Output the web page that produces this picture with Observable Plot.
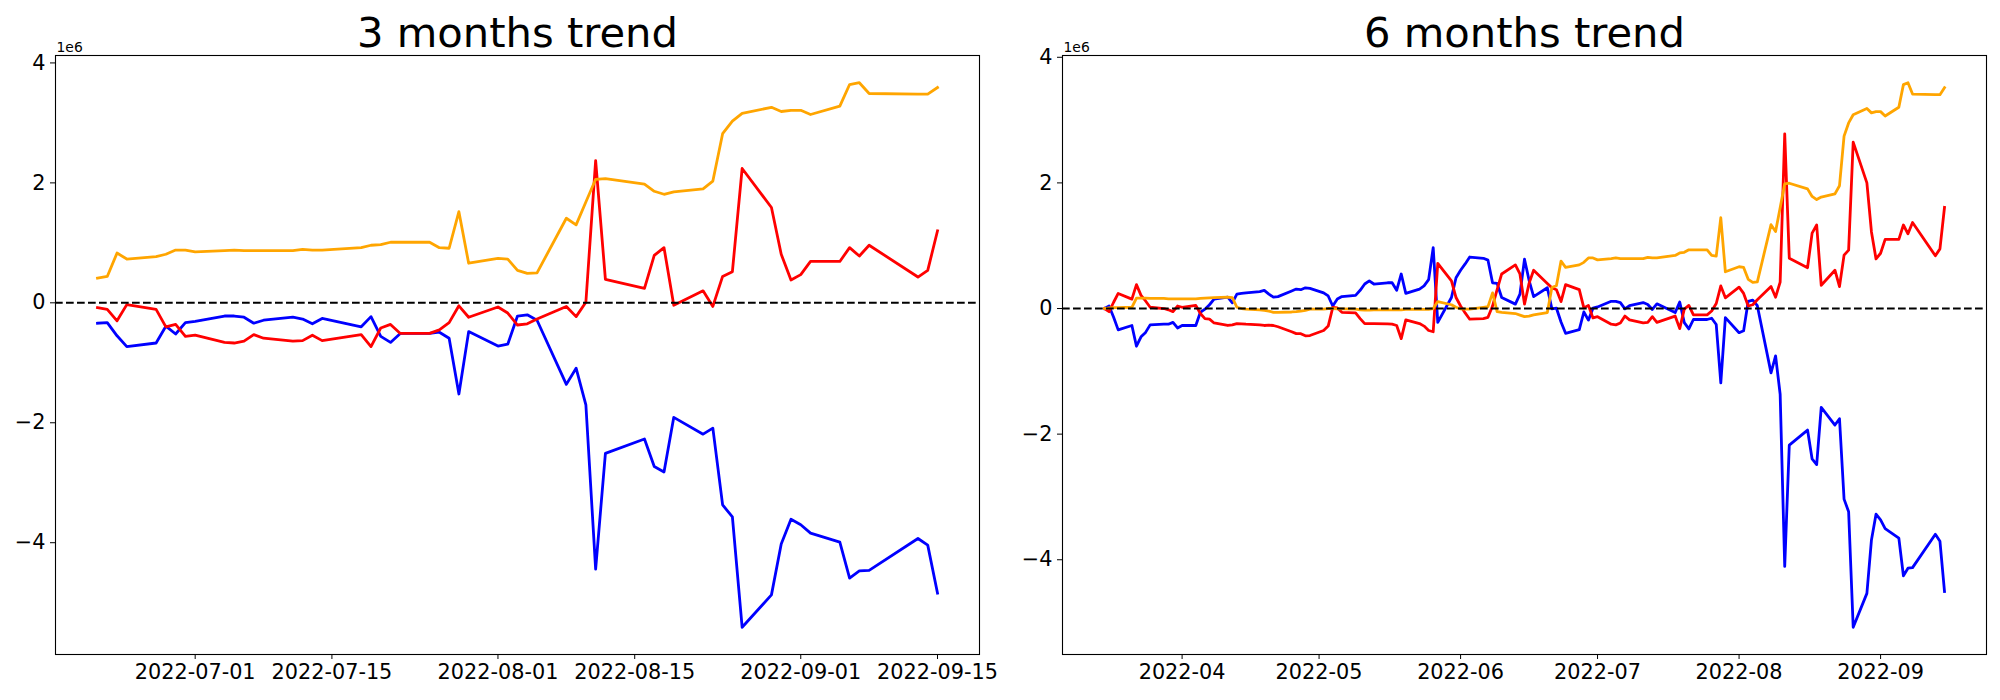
<!DOCTYPE html>
<html>
<head>
<meta charset="utf-8">
<script src="https://cdn.jsdelivr.net/npm/d3@7"></script>
<script src="https://cdn.jsdelivr.net/npm/@observablehq/plot@0.6"></script>
<style>
html, body { margin: 0; padding: 0; background: #fff; }
#chart { display: flex; width: 2000px; height: 700px; overflow: hidden; }
#chart svg { flex: none; }
</style>
</head>
<body>
<div id="chart"></div>
<script>
// ---------- 3 months panel (values in units of 1e6) ----------
const threeMonthDates = [
  "2022-06-21","2022-06-22","2022-06-23","2022-06-24","2022-06-27","2022-06-28","2022-06-29","2022-06-30",
  "2022-07-01","2022-07-04","2022-07-05","2022-07-06","2022-07-07","2022-07-08","2022-07-11","2022-07-12",
  "2022-07-13","2022-07-14","2022-07-18","2022-07-19","2022-07-20","2022-07-21","2022-07-22","2022-07-25",
  "2022-07-26","2022-07-27","2022-07-28","2022-07-29",
  "2022-08-01","2022-08-02","2022-08-03","2022-08-04","2022-08-05","2022-08-08","2022-08-09","2022-08-10",
  "2022-08-11","2022-08-12","2022-08-16","2022-08-17","2022-08-18","2022-08-19","2022-08-22","2022-08-23",
  "2022-08-24","2022-08-25","2022-08-26","2022-08-29","2022-08-30","2022-08-31",
  "2022-09-01","2022-09-02","2022-09-05","2022-09-06","2022-09-07","2022-09-08","2022-09-13","2022-09-14","2022-09-15"
];
const threeMonthBlue = [
  -0.34,-0.33,-0.55,-0.73,-0.67,-0.39,-0.52,-0.33,
  -0.31,-0.22,-0.22,-0.24,-0.34,-0.29,-0.24,-0.27,-0.35,-0.26,-0.40,-0.23,-0.56,-0.66,-0.51,-0.51,-0.49,-0.59,-1.52,-0.48,
  -0.72,-0.69,-0.22,-0.20,-0.29,-1.36,-1.09,-1.70,-4.44,-2.51,-2.27,-2.73,-2.82,-1.91,-2.19,-2.09,-3.37,-3.57,-5.41,-4.87,-4.02,-3.61,
  -3.70,-3.84,-3.99,-4.59,-4.47,-4.46,-3.93,-4.04,-4.84
];
const threeMonthRed = [
  -0.08,-0.11,-0.30,-0.03,-0.11,-0.40,-0.36,-0.56,
  -0.54,-0.66,-0.67,-0.64,-0.53,-0.59,-0.64,-0.63,-0.54,-0.63,-0.53,-0.73,-0.42,-0.36,-0.51,-0.51,-0.45,-0.33,-0.05,-0.24,
  -0.07,-0.17,-0.37,-0.35,-0.27,-0.06,-0.23,0.01,2.37,0.39,0.24,0.79,0.92,-0.04,0.20,-0.06,0.44,0.52,2.24,1.59,0.81,0.38,
  0.47,0.69,0.69,0.92,0.78,0.96,0.43,0.54,1.20
];
const threeMonthOrange = [
  0.41,0.44,0.83,0.73,0.77,0.81,0.88,0.88,
  0.85,0.87,0.88,0.87,0.87,0.87,0.87,0.89,0.88,0.88,0.92,0.96,0.97,1.01,1.01,1.01,0.92,0.91,1.52,0.66,
  0.74,0.73,0.54,0.49,0.50,1.41,1.30,1.68,2.06,2.07,1.98,1.86,1.81,1.85,1.90,2.03,2.82,3.03,3.16,3.26,3.19,3.21,
  3.21,3.14,3.28,3.64,3.67,3.49,3.48,3.48,3.59
];
const threeMonthTicks = ["2022-07-01","2022-07-15","2022-08-01","2022-08-15","2022-09-01","2022-09-15"];

// ---------- 6 months panel ----------
const sixMonthEarlyDates = [
  "2022-03-15","2022-03-16","2022-03-17","2022-03-18",
  "2022-03-21","2022-03-22","2022-03-23","2022-03-24","2022-03-25",
  "2022-03-28","2022-03-29","2022-03-30","2022-03-31","2022-04-01",
  "2022-04-04","2022-04-05","2022-04-06","2022-04-07","2022-04-08",
  "2022-04-11","2022-04-12","2022-04-13","2022-04-14","2022-04-15",
  "2022-04-18","2022-04-19","2022-04-20","2022-04-21","2022-04-22",
  "2022-04-25","2022-04-26","2022-04-27","2022-04-28","2022-04-29",
  "2022-05-02","2022-05-03","2022-05-04","2022-05-05","2022-05-06",
  "2022-05-09","2022-05-10","2022-05-11","2022-05-12","2022-05-13",
  "2022-05-16","2022-05-17","2022-05-18","2022-05-19","2022-05-20",
  "2022-05-23","2022-05-24","2022-05-25","2022-05-26","2022-05-27",
  "2022-05-30","2022-05-31","2022-06-01","2022-06-02","2022-06-03",
  "2022-06-06","2022-06-07","2022-06-08","2022-06-09","2022-06-10",
  "2022-06-13","2022-06-14","2022-06-15","2022-06-16","2022-06-17",
  "2022-06-20"
];
const sixMonthDates = sixMonthEarlyDates.concat(threeMonthDates);
const sixMonthBlue = [
  0.00,0.04,-0.14,-0.34,
  -0.27,-0.60,-0.45,-0.38,-0.26,
  -0.25,-0.25,-0.22,-0.31,-0.27,
  -0.27,-0.06,-0.01,0.06,0.15,
  0.18,0.09,0.23,0.24,0.25,
  0.27,0.29,0.23,0.18,0.19,
  0.28,0.31,0.30,0.33,0.32,
  0.25,0.20,0.04,0.15,0.19,
  0.21,0.29,0.39,0.44,0.39,
  0.41,0.41,0.29,0.55,0.24,
  0.31,0.36,0.46,0.97,-0.22,
  0.175,0.49,0.61,0.71,0.82,
  0.80,0.77,0.41,0.40,0.175,
  0.07,0.23,0.785,0.45,0.19,
  0.33,
  -0.005,0.005,-0.215,-0.395,-0.335,-0.055,-0.185,0.005,
  0.025,0.115,0.115,0.095,-0.005,0.045,0.095,0.065,-0.015,0.075,-0.065,0.105,-0.225,-0.325,-0.175,-0.175,-0.155,-0.255,-1.185,-0.145,
  -0.385,-0.355,0.115,0.135,0.045,-1.025,-0.755,-1.365,-4.105,-2.175,-1.935,-2.395,-2.485,-1.575,-1.855,-1.755,-3.035,-3.235,-5.075,-4.535,-3.685,-3.275,
  -3.365,-3.505,-3.655,-4.255,-4.135,-4.125,-3.595,-3.705,-4.505
];
const sixMonthRed = [
  0.00,-0.05,0.10,0.24,
  0.15,0.38,0.21,0.12,0.02,
  0.00,-0.02,-0.05,0.04,0.02,
  0.05,-0.08,-0.16,-0.17,-0.23,
  -0.27,-0.26,-0.24,-0.245,-0.25,
  -0.26,-0.27,-0.265,-0.27,-0.29,
  -0.37,-0.40,-0.40,-0.435,-0.43,
  -0.35,-0.28,0.016,0.01,-0.06,
  -0.07,-0.16,-0.24,-0.24,-0.24,
  -0.245,-0.25,-0.27,-0.48,-0.18,
  -0.24,-0.28,-0.35,-0.37,0.72,
  0.44,0.175,0.04,-0.07,-0.17,
  -0.16,-0.14,0.04,0.30,0.55,
  0.695,0.55,0.07,0.40,0.61,
  0.40,
  0.33,0.30,0.11,0.38,0.30,0.01,0.05,-0.15,
  -0.13,-0.25,-0.26,-0.23,-0.12,-0.18,-0.23,-0.22,-0.13,-0.22,-0.12,-0.32,-0.01,0.05,-0.10,-0.10,-0.04,0.08,0.36,0.17,
  0.34,0.24,0.04,0.06,0.14,0.35,0.18,0.42,2.78,0.80,0.65,1.20,1.33,0.37,0.61,0.35,0.85,0.93,2.65,2.00,1.22,0.79,
  0.88,1.10,1.10,1.33,1.19,1.37,0.84,0.95,1.61
];
const sixMonthOrange = [
  0.00,0.01,0.015,0.015,
  0.02,0.165,0.165,0.165,0.16,
  0.16,0.155,0.155,0.155,0.155,
  0.155,0.16,0.165,0.17,0.175,
  0.18,0.175,0.02,0.00,-0.01,
  -0.02,-0.03,-0.04,-0.06,-0.06,
  -0.055,-0.05,-0.04,-0.03,-0.01,
  -0.01,0.00,0.00,-0.005,-0.005,
  -0.01,-0.02,-0.025,-0.025,-0.02,
  -0.02,-0.02,-0.02,-0.02,-0.015,
  -0.015,-0.015,-0.015,0.00,0.11,
  0.06,0.02,-0.005,-0.01,-0.01,
  0.02,0.03,0.25,-0.05,-0.06,
  -0.08,-0.105,-0.13,-0.12,-0.10,
  -0.065,
  0.335,0.365,0.755,0.655,0.695,0.735,0.805,0.805,
  0.775,0.795,0.805,0.795,0.795,0.795,0.795,0.815,0.805,0.805,0.845,0.885,0.895,0.935,0.935,0.935,0.845,0.835,1.445,0.585,
  0.665,0.655,0.465,0.415,0.425,1.335,1.225,1.605,1.985,1.995,1.905,1.785,1.735,1.775,1.825,1.955,2.745,2.955,3.085,3.185,3.115,3.135,
  3.135,3.065,3.205,3.565,3.595,3.415,3.405,3.405,3.515
];
const sixMonthTicks = ["2022-04-01","2022-05-01","2022-06-01","2022-07-01","2022-08-01","2022-09-01"];

const yTicks = [-4, -2, 0, 2, 4];
const titles = ["3 months trend", "6 months trend"];
const offsetLabel = "1e6";

const parse = d3.utcParse("%Y-%m-%d");
const minusFmt = d => d < 0 ? "\u2212" + Math.abs(d) : String(d);

function panel(dates, blue, red, orange, ticks, fmt, title, ml, mr) {
  const ds = dates.map(parse);
  const rows = vals => ds.map((d, i) => ({date: d, value: vals[i]}));
  const all = blue.concat(red, orange);
  const [y0, y1] = d3.extent(all);
  const py = (y1 - y0) * 0.05;
  const [x0, x1] = d3.extent(ds);
  const px = (x1 - x0) * 0.05;
  const lineOpts = {x: "date", y: "value", strokeWidth: 2.8, strokeLinejoin: "round", strokeLinecap: "square"};
  return Plot.plot({
    width: 1000, height: 700,
    marginLeft: ml, marginRight: mr, marginTop: 55, marginBottom: 46,
    style: {fontFamily: "'DejaVu Sans', sans-serif", fontSize: "20.8px", color: "black", background: "white", overflow: "visible"},
    x: {type: "utc", domain: [new Date(+x0 - px), new Date(+x1 + px)], ticks: ticks.map(parse),
        tickFormat: d3.utcFormat(fmt), tickSize: 5, tickPadding: 5, label: null},
    y: {domain: [y0 - py, y1 + py], ticks: yTicks, tickFormat: minusFmt, tickSize: 5, tickPadding: 5, label: null},
    marks: [
      Plot.line(rows(blue), {...lineOpts, stroke: "#0000ff"}),
      Plot.line(rows(red), {...lineOpts, stroke: "#ff0000"}),
      Plot.line(rows(orange), {...lineOpts, stroke: "#ffa500"}),
      Plot.ruleY([0], {stroke: "black", strokeWidth: 2.1, strokeDasharray: "7.7,3.3"}),
      Plot.frame({stroke: "black", strokeWidth: 1.1}),
      Plot.text([title], {text: d => d, frameAnchor: "top", lineAnchor: "bottom", dy: -8.3, fontSize: 41.67, fill: "black"}),
      Plot.text([offsetLabel], {text: d => d, frameAnchor: "top-left", textAnchor: "start", lineAnchor: "bottom", dy: -4, dx: 1, fontSize: 13.9, fill: "black"})
    ]
  });
}

const chart = document.getElementById("chart");
chart.append(panel(threeMonthDates, threeMonthBlue, threeMonthRed, threeMonthOrange, threeMonthTicks, "%Y-%m-%d", titles[0], 55, 21));
chart.append(panel(sixMonthDates, sixMonthBlue, sixMonthRed, sixMonthOrange, sixMonthTicks, "%Y-%m", titles[1], 62, 14));
</script>
</body>
</html>
